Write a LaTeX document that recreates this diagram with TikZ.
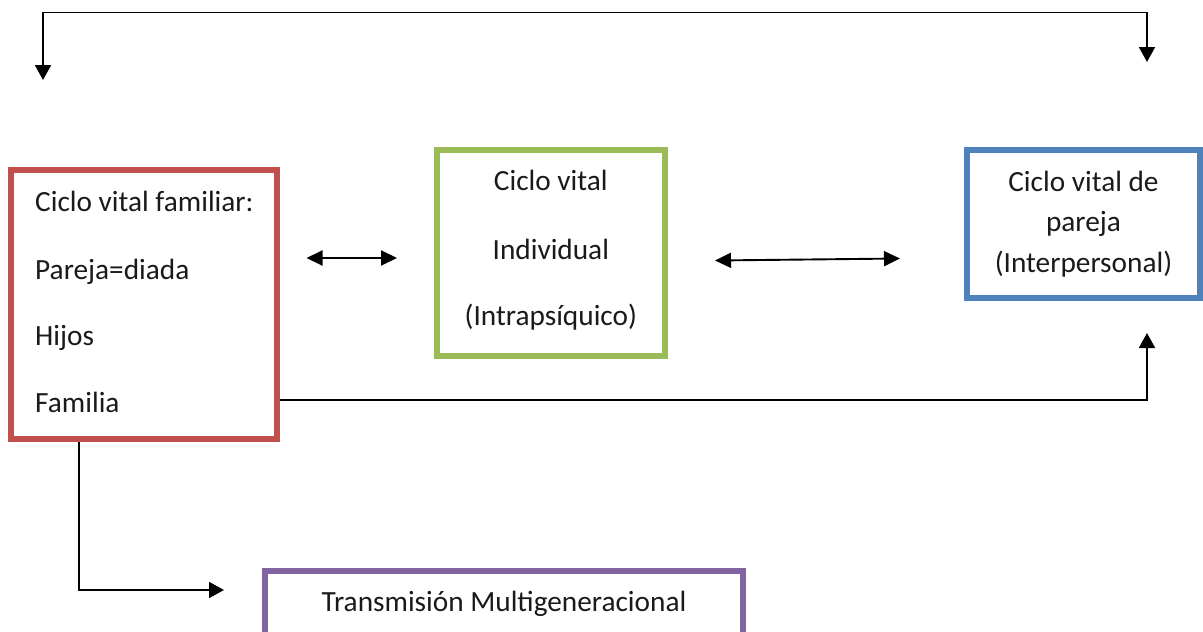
\documentclass[tikz,border=0pt]{standalone}
\usepackage{fontspec}
\setmainfont{Carlito}
\usetikzlibrary{arrows.meta}
\definecolor{cred}{HTML}{C0504D}
\definecolor{cgreen}{HTML}{9BBB59}
\definecolor{cblue}{HTML}{4F81BD}
\definecolor{cpurple}{HTML}{8064A2}
\definecolor{txtc}{HTML}{1A1A1A}
\begin{document}
\begin{tikzpicture}[x=1pt,y=-1pt,
  box/.style={draw, line width=6pt, rectangle, inner sep=0pt, fill=white},
  lbl/.style={font=\fontsize{29.3}{35}\selectfont, inner sep=0pt, text=txtc},
  conn/.style={line width=1.9pt, -{Triangle[width=16pt,length=15pt]}},
  biconn/.style={line width=1.9pt, {Triangle[width=15pt,length=16pt]}-{Triangle[width=15pt,length=16pt]}}]
\useasboundingbox (0,0) rectangle (1203,632);
\clip (0,0) rectangle (1203,632);
\fill[white] (0,0) rectangle (1203,632);

% boxes
\node[box, draw=cred, minimum width=266pt, minimum height=269pt] (red) at (143.5,304.5) {};
\node[box, draw=cgreen, minimum width=228.3pt, minimum height=206pt] (green) at (550.85,253) {};
\node[box, draw=cblue, minimum width=233pt, minimum height=148pt] (blue) at (1083.5,224) {};
\node[box, draw=cpurple, minimum width=478pt, minimum height=80pt] (purple) at (504,611) {};

% texts
\node[lbl, anchor=base west] (r1) at (35,211.7) {Ciclo vital familiar:};
\node[lbl, anchor=base west] (r2) at (35,279) {Pareja=diada};
\node[lbl, anchor=base west] (r3) at (35,345.7) {Hijos};
\node[lbl, anchor=base west] (r4) at (35,412.4) {Familia};

\node[lbl, anchor=base] (g1) at (550.85,190.7) {Ciclo vital};
\node[lbl, anchor=base] (g2) at (550.85,259) {Individual};
\node[lbl, anchor=base] (g3) at (550.85,325) {(Intrapsíquico)};

\node[lbl, anchor=base] (b1) at (1083.5,191) {Ciclo vital de};
\node[lbl, anchor=base] (b2) at (1083.5,231.7) {pareja};
\node[lbl, anchor=base] (b3) at (1083.5,272.7) {(Interpersonal)};

\node[lbl, anchor=base] (p1) at (504,611.7) {Transmisión Multigeneracional};

% connector end points
\coordinate (topL) at (43,80);
\coordinate (topR) at (1147,62);
\coordinate (blueIn) at (1147,333);
\coordinate (purpIn) at (224,590);
\coordinate (a1) at (306.5,258);
\coordinate (a2) at (397,258);
\coordinate (a3) at (715,260.5);
\coordinate (a4) at (900,258.5);

% connectors
\draw[line width=1.9pt, {Triangle[width=16pt,length=15pt]}-{Triangle[width=16pt,length=15pt]}]
  (topL) -- (43,12.5) -- (1147,12.5) -- (topR);
\draw[conn] (red.east |- 0,400) -| (blueIn);
\draw[conn] (red.south -| 79,0) |- (purpIn);
\draw[biconn] (a1) -- (a2);
\draw[biconn] (a3) -- (a4);
\end{tikzpicture}
\end{document}
